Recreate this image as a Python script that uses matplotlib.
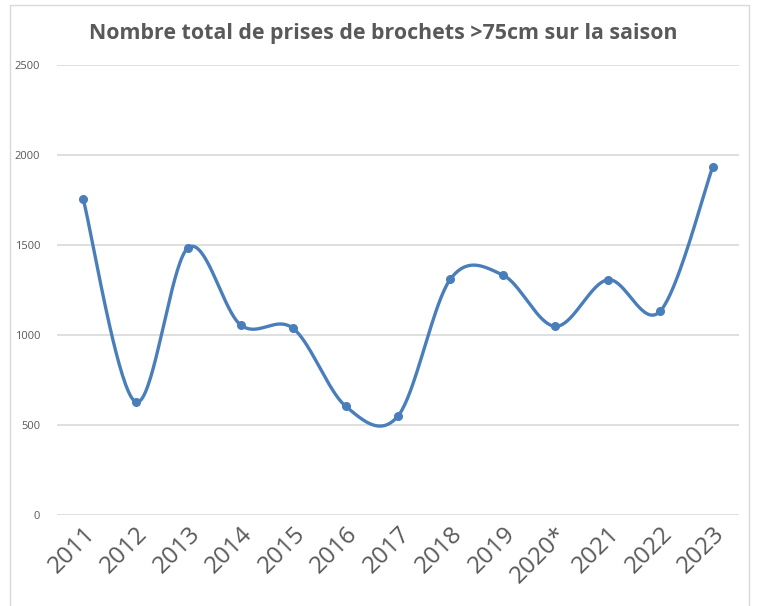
"""
Nombre total de prises de brochets >75cm sur la saison
"""
import numpy as np
import matplotlib
matplotlib.use('Agg')
import matplotlib.pyplot as plt
from matplotlib.patches import Rectangle

# Données
annees = ['2011', '2012', '2013', '2014', '2015', '2016', '2017',
          '2018', '2019', '2020*', '2021', '2022', '2023']
prises = [1755, 628, 1485, 1056, 1037, 605, 550,
          1311, 1333, 1048, 1307, 1133, 1935]

titre = 'Nombre total de prises de brochets >75cm sur la saison'
yticks = [0, 500, 1000, 1500, 2000, 2500]

BLEU = '#4a7ebb'
GRIS = '#595959'


# Courbe lissée façon Excel (Catmull-Rom -> Bézier)
def lissage(x, y, n=40):
    x = np.asarray(x, float)
    y = np.asarray(y, float)
    px, py = [], []
    for i in range(len(x) - 1):
        x0, y0 = (x[i - 1], y[i - 1]) if i > 0 else (x[i], y[i])
        x3, y3 = (x[i + 2], y[i + 2]) if i + 2 < len(x) else (x[i + 1], y[i + 1])
        x1, y1 = x[i], y[i]
        x2, y2 = x[i + 1], y[i + 1]
        c1x, c1y = x1 + (x2 - x0) / 6, y1 + (y2 - y0) / 6
        c2x, c2y = x2 - (x3 - x1) / 6, y2 - (y3 - y1) / 6
        t = np.linspace(0, 1, n)
        a, b, c, d = (1 - t) ** 3, 3 * (1 - t) ** 2 * t, 3 * (1 - t) * t ** 2, t ** 3
        px.extend(a * x1 + b * c1x + c * c2x + d * x2)
        py.extend(a * y1 + b * c1y + c * c2y + d * y2)
    return np.array(px), np.array(py)


plt.rcParams['font.family'] = ['Open Sans', 'DejaVu Sans']

fig = plt.figure(figsize=(7.6, 6.06), dpi=100)
fig.patches.append(Rectangle((9.5 / 760, -0.1), (749 - 9.5) / 760, 1.1 - 5 / 606,
                             transform=fig.transFigure, fill=False,
                             edgecolor='#d9d9d9', linewidth=1.0))

ax = fig.add_axes([57 / 760, 1 - 515 / 606, (739 - 57) / 760, (515 - 65) / 606])

x = np.arange(len(annees))
sx, sy = lissage(x, prises)
ax.plot(sx, sy, color=BLEU, linewidth=2.4, solid_capstyle='round', zorder=3)
ax.plot(x, prises, 'o', color=BLEU, markersize=5.5, zorder=4)

ax.set_xlim(-0.5, len(annees) - 0.5)
ax.set_ylim(0, 2500)
ax.set_yticks(yticks)
ax.set_yticklabels([str(v) for v in yticks], fontsize=8, color=GRIS)
ax.set_xticks(x)
ax.set_xticklabels(annees, fontsize=17.5, color=GRIS, rotation=45,
                   ha='right', rotation_mode='anchor')
ax.tick_params(axis='both', length=0)
ax.tick_params(axis='y', pad=12)
ax.tick_params(axis='x', pad=5)
ax.grid(axis='y', color='#d9d9d9', linewidth=1.2)
ax.set_axisbelow(True)
for s in ax.spines.values():
    s.set_visible(False)

fig.text(383 / 760, 1 - 33 / 606, titre, ha='center', va='center',
         fontsize=15.4, fontweight='bold', color=GRIS)

plt.savefig('out.png', dpi=100)
